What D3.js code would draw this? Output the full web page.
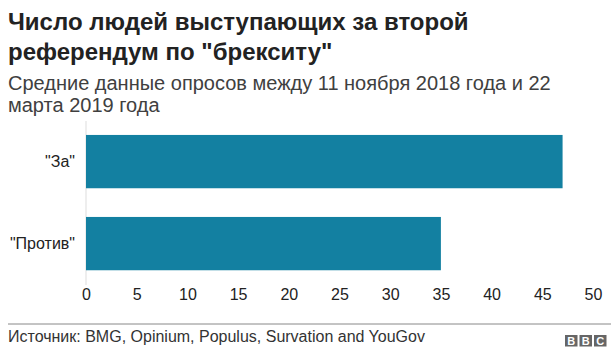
<!DOCTYPE html>
<html><head><meta charset="utf-8">
<script src="https://cdn.jsdelivr.net/npm/d3@7/dist/d3.min.js"></script>
<style>html,body{margin:0;padding:0;background:#fff;} svg{display:block;font-family:"Liberation Sans",Arial,Helvetica,sans-serif;}</style>
</head><body>
<script>
const categories = ['"За"', '"Против"'];
const values = [47, 35];
const xTicks = [0, 5, 10, 15, 20, 25, 30, 35, 40, 45, 50];
const titleLines = ['Число людей выступающих за второй', 'референдум по "брекситу"'];
const subtitleLines = ['Средние данные опросов между 11 ноября 2018 года и 22', 'марта 2019 года'];
const sourceText = 'Источник: BMG, Opinium, Populus, Survation and YouGov';

const W = 611, H = 347;
const svg = d3.select('body').append('svg').attr('width', W).attr('height', H);

const x = d3.scaleLinear().domain([0, 50]).range([86, 593]);
const y = d3.scaleBand().domain(categories).range([120.6, 284.6]).paddingInner(0.35).paddingOuter(0.175);

svg.selectAll('text.title').data(titleLines).join('text')
  .attr('class', 'title').attr('x', 8).attr('y', (d, i) => 30 + i * 30)
  .attr('font-size', 24).attr('font-weight', 'bold').attr('fill', '#222').text(d => d);

svg.selectAll('text.sub').data(subtitleLines).join('text')
  .attr('class', 'sub').attr('x', 8).attr('y', (d, i) => 89.5 + i * 22.5)
  .attr('font-size', 20).attr('fill', '#404040').text(d => d);

// vertical baseline
svg.append('line').attr('x1', x(0)).attr('x2', x(0)).attr('y1', 121).attr('y2', 285)
  .attr('stroke', '#dddddd').attr('stroke-width', 1);

svg.selectAll('rect.bar').data(values).join('rect')
  .attr('class', 'bar').attr('x', x(0)).attr('y', (d, i) => y(categories[i]))
  .attr('width', d => x(d) - x(0)).attr('height', y.bandwidth()).attr('fill', '#1380A1');

svg.selectAll('text.cat').data(categories).join('text')
  .attr('class', 'cat').attr('x', 75).attr('y', d => y(d) + y.bandwidth() / 2)
  .attr('dy', '0.35em').attr('text-anchor', 'end').attr('font-size', 16).attr('fill', '#222').text(d => d);

const xAxis = svg.append('g').attr('transform', 'translate(0,284)')
  .call(d3.axisBottom(x).tickValues(xTicks).tickSize(0).tickPadding(0));
xAxis.select('.domain').remove();
xAxis.selectAll('text').attr('font-size', 16).attr('fill', '#222')
  .attr('font-family', '"Liberation Sans",Arial,sans-serif').attr('y', 15.5).attr('dy', 0);

// footer
svg.append('line').attr('x1', 8).attr('x2', W).attr('y1', 324).attr('y2', 324)
  .attr('stroke', '#888').attr('stroke-width', 1);
svg.append('text').attr('x', 8).attr('y', 342).attr('font-size', 16).attr('fill', '#333').text(sourceText);

const logo = svg.append('g');
['B', 'B', 'C'].forEach((c, i) => {
  const bx = 565 + i * 14.5;
  logo.append('rect').attr('x', bx).attr('y', 335).attr('width', 12.5).attr('height', 11.5).attr('fill', '#666');
  logo.append('text').attr('x', bx + 6.25).attr('y', 344.5).attr('text-anchor', 'middle')
    .attr('font-size', 11).attr('font-weight', 'bold').attr('fill', '#fff').text(c);
});
</script>
</body></html>
